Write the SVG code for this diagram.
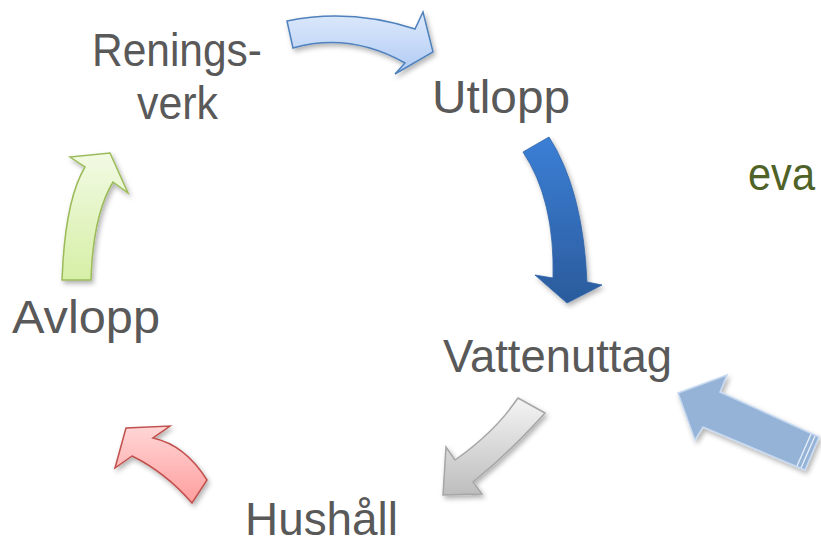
<svg xmlns="http://www.w3.org/2000/svg" width="821" height="544" viewBox="0 0 821 544">
<style>
.lbl{font-family:"Liberation Sans","DejaVu Sans",sans-serif;font-size:46px;fill:#595959}
.eva{fill:#4f6228}
</style>
<defs>
<filter id="sh" x="-20%" y="-20%" width="150%" height="150%">
<feDropShadow dx="2" dy="3" stdDeviation="2.5" flood-color="#000" flood-opacity="0.3"/>
</filter>
<linearGradient id="g1" x1="0" y1="0" x2="0" y2="1"><stop offset="0" stop-color="#dde9fb"/><stop offset="1" stop-color="#b0cbf4"/></linearGradient>
<linearGradient id="g2" x1="0" y1="0" x2="0" y2="1"><stop offset="0" stop-color="#3b7fd6"/><stop offset="1" stop-color="#2b5b9c"/></linearGradient>
<linearGradient id="g3" x1="0" y1="0" x2="0" y2="1"><stop offset="0" stop-color="#f4f4f4"/><stop offset="1" stop-color="#bdbdbd"/></linearGradient>
<linearGradient id="g4" x1="0" y1="0" x2="0" y2="1"><stop offset="0" stop-color="#ffd6d6"/><stop offset="1" stop-color="#ff9e9e"/></linearGradient>
<linearGradient id="g5" x1="0" y1="0" x2="0" y2="1"><stop offset="0" stop-color="#f2fae4"/><stop offset="1" stop-color="#d6efa6"/></linearGradient>
</defs>
<g id="connectors" filter="url(#sh)">
<path d="M287,21 Q350,8 415,29 L423,12 L433,52 L395,74 L405,63 Q350,32 293,48 Z" fill="url(#g1)" stroke="#4f81bd" stroke-width="1.5" stroke-linejoin="miter"/>
<path d="M523,152 L549,137 Q583,190 587,282 L602,285 L567,303 L535,275 L553,278 Q555,200 523,152 Z" fill="url(#g2)" stroke="#2e63a8" stroke-width="0.8"/>
<path d="M518,398 L545,413 Q510,452 473,482 L482,494 L443,495 L446,447 L455,460 Q495,432 518,398 Z" fill="url(#g3)" stroke="#a6a6a6" stroke-width="1.5"/>
<path d="M126,428 L170,426 L153,438 Q185,445 207,480 L192,503 Q165,472 132,456 L115,468 Z" fill="url(#g4)" stroke="#c0504d" stroke-width="1.5"/>
<path d="M62,280 L91,280 Q93,215 113,182 L128,193 L110,153 L70,157 L85,167 Q65,200 62,280 Z" fill="url(#g5)" stroke="#9bbb59" stroke-width="1.5"/>
<g>
<path d="M678,393 L727,375 L720,392 L819,437 L805,470 L703,427 L695,440 Z" fill="#95b3d7" stroke="#c6d9f1" stroke-width="1.5"/>
<path d="M811,434 L797,466 M815,436 L801,468" stroke="#e8f0fa" stroke-width="1.3" fill="none"/>
</g>
</g>
<g id="reningsverk"><text class="lbl" x="92" y="66" textLength="170" lengthAdjust="spacingAndGlyphs">Renings-</text><text class="lbl" x="137" y="119" textLength="81" lengthAdjust="spacingAndGlyphs">verk</text></g>
<g id="utlopp"><text class="lbl" x="432" y="113" textLength="138" lengthAdjust="spacingAndGlyphs">Utlopp</text></g>
<g id="vattenuttag"><text class="lbl" x="443" y="372" textLength="229" lengthAdjust="spacingAndGlyphs">Vattenuttag</text></g>
<g id="hushall"><text class="lbl" x="245" y="535" textLength="153" lengthAdjust="spacingAndGlyphs">Hushåll</text></g>
<g id="avlopp"><text class="lbl" x="12" y="333" textLength="148" lengthAdjust="spacingAndGlyphs">Avlopp</text></g>
<g id="eva"><text class="lbl eva" x="748" y="190" textLength="67" lengthAdjust="spacingAndGlyphs">eva</text></g>
</svg>
